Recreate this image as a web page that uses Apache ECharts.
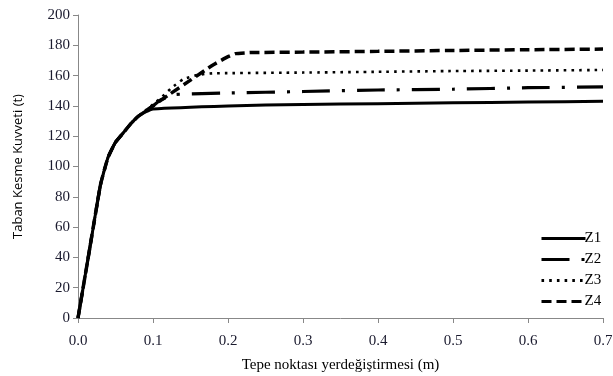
<!DOCTYPE html>
<html><head><meta charset="utf-8">
<script src="https://cdn.jsdelivr.net/npm/echarts@6/dist/echarts.min.js"></script>
<style>html,body{margin:0;padding:0;background:#fff}#c{width:613px;height:376px}</style>
</head><body><div id="c"></div>
<script>
const xTicks = [0, 0.1, 0.2, 0.3, 0.4, 0.5, 0.6, 0.7];
const z1 = [[0,0],[0.015,44],[0.03,88],[0.04,106],[0.05,116],[0.06,122],[0.07,128],[0.08,133],[0.09,136],[0.1,138],[0.2,140],[0.3,141],[0.4,141.5],[0.5,142],[0.6,142.5],[0.7,143]];
const z2 = [[0,0],[0.015,44],[0.03,88],[0.04,106],[0.05,116],[0.06,122],[0.07,128],[0.08,133],[0.09,136.5],[0.1,140],[0.11,144],[0.13,147.5],[0.2,148.5],[0.3,149.5],[0.4,150.5],[0.5,151],[0.6,152],[0.7,152.5]];
const z3 = [[0,0],[0.015,44],[0.03,88],[0.04,106],[0.05,116],[0.06,122],[0.07,128],[0.08,133],[0.09,137],[0.1,141],[0.11,145],[0.125,152],[0.14,157.5],[0.16,160.5],[0.18,161.5],[0.3,162],[0.4,162.5],[0.5,163],[0.6,163.3],[0.7,163.7]];
const z4 = [[0,0],[0.015,44],[0.03,88],[0.04,106],[0.05,116],[0.06,122],[0.07,128],[0.08,133],[0.09,136.5],[0.1,140],[0.12,147],[0.15,157],[0.18,167],[0.2,172.5],[0.21,174.5],[0.23,175.2],[0.3,175.5],[0.4,176],[0.5,176.6],[0.6,177.1],[0.7,177.5]];
const names = ['Z1','Z2','Z3','Z4'];

const chart = echarts.init(document.getElementById('c'));
const serif = 'Liberation Serif';
function s(name, data, width, type) {
  return {name, type:'line', data, showSymbol:false, symbol:'none', smooth:0.12,
    lineStyle:{color:'#000', width, type}, itemStyle:{color:'#000'}};
}
chart.setOption({
  animation:false,
  backgroundColor:'#fff',
  grid:{left:78, right:10, top:15, bottom:58, outerBoundsMode:'none', containLabel:false},
  legend:{orient:'vertical', left:535, top:226, itemWidth:44, itemHeight:14, itemGap:6,
    itemStyle:{opacity:0}, lineStyle:{width:3},
    data:names, textStyle:{fontFamily:serif, fontSize:15, color:'#000', padding:[0,0,0,-6]}},
  xAxis:{type:'value', min:0, max:0.7, interval:0.1,
    name:'Tepe noktası yerdeğiştirmesi (m)', nameLocation:'middle', nameGap:40,
    nameTextStyle:{fontFamily:serif, fontSize:15, color:'#000'},
    axisLine:{lineStyle:{color:'#888', width:1}},
    axisTick:{show:true, length:5, lineStyle:{color:'#888'}},
    axisLabel:{fontFamily:serif, fontSize:15, color:'#1a1a2e', margin:16, formatter:v=>v.toFixed(1)},
    splitLine:{show:false}},
  yAxis:{type:'value', min:0, max:200, interval:20,
    name:'Taban Kesme Kuvveti (t)', nameLocation:'middle', nameGap:53, nameRotate:90,
    nameTextStyle:{fontFamily:'Open Sans', fontSize:13, color:'#000'},
    axisLine:{show:true, lineStyle:{color:'#888', width:1}},
    axisTick:{show:true, length:5, lineStyle:{color:'#888'}},
    axisLabel:{fontFamily:serif, fontSize:15, color:'#1a1a2e', margin:8},
    splitLine:{show:false}},
  series:[
    s('Z1', z1, 3, 'solid'),
    s('Z2', z2, 3.2, [28,12,3,12]),
    s('Z3', z3, 2.6, [2.6,5.1]),
    s('Z4', z4, 3.5, [10,5])
  ]
});
</script></body></html>
